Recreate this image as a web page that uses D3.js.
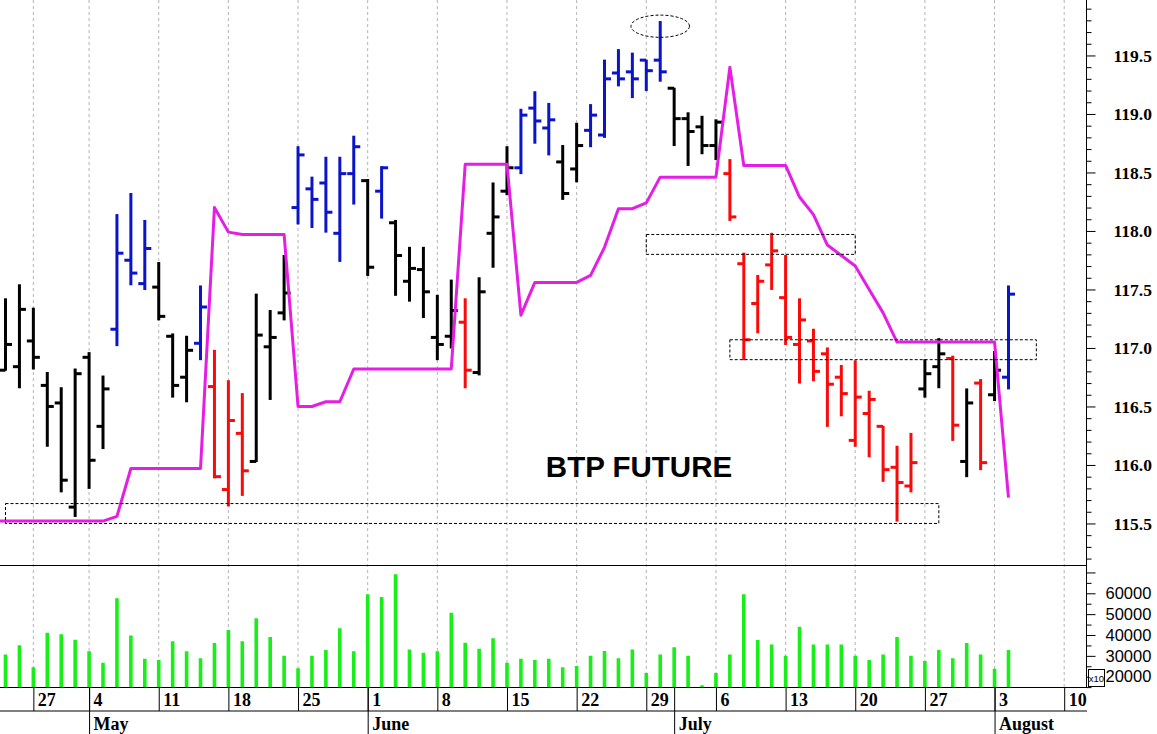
<!DOCTYPE html>
<html><head><meta charset="utf-8">
<script src="https://cdn.jsdelivr.net/npm/d3@7/dist/d3.min.js"></script>
<style>body{margin:0;background:#fff}svg{display:block}</style>
</head><body>
<svg id="c" width="1157" height="734"></svg>
<script>
// ---------- DATA ----------
const dates = [
 "2020-04-23","2020-04-24","2020-04-27","2020-04-28","2020-04-29","2020-04-30",
 "2020-05-04","2020-05-05","2020-05-06","2020-05-07","2020-05-08",
 "2020-05-11","2020-05-12","2020-05-13","2020-05-14","2020-05-15",
 "2020-05-18","2020-05-19","2020-05-20","2020-05-21","2020-05-22",
 "2020-05-25","2020-05-26","2020-05-27","2020-05-28","2020-05-29",
 "2020-06-01","2020-06-02","2020-06-03","2020-06-04","2020-06-05",
 "2020-06-08","2020-06-09","2020-06-10","2020-06-11","2020-06-12",
 "2020-06-15","2020-06-16","2020-06-17","2020-06-18","2020-06-19",
 "2020-06-22","2020-06-23","2020-06-24","2020-06-25","2020-06-26",
 "2020-06-29","2020-06-30","2020-07-01","2020-07-02","2020-07-03",
 "2020-07-06","2020-07-07","2020-07-08","2020-07-09","2020-07-10",
 "2020-07-13","2020-07-14","2020-07-15","2020-07-16","2020-07-17",
 "2020-07-20","2020-07-21","2020-07-22","2020-07-23","2020-07-24",
 "2020-07-27","2020-07-28","2020-07-29","2020-07-30","2020-07-31",
 "2020-08-03","2020-08-04",
 "2020-08-05","2020-08-06","2020-08-07","2020-08-10","2020-08-11"
];
const open = [116.81,116.84,117.06,116.68,116.53,115.64,116.92,116.33,117.16,117.75,117.55,
 117.52,117.10,116.75,117.04,116.67,115.79,116.27,116.03,117.01,117.30,
 118.20,118.36,118.41,117.98,118.49,118.43,118.34,118.07,117.57,117.67,
 117.09,117.10,117.22,116.79,117.98,118.34,118.54,119.05,118.88,118.59,
 118.53,118.86,118.82,119.35,119.36,119.46,119.46,119.22,118.96,118.89,
 118.73,118.49,117.72,117.38,117.71,117.43,117.03,117.06,116.95,116.75,
 116.21,116.44,116.33,115.98,115.82,116.65,116.84,116.91,116.03,116.70,
 116.60,116.75];
const high = [117.42,117.54,117.34,116.79,116.66,116.82,116.96,116.76,118.14,118.32,118.09,
 117.73,117.12,117.10,117.53,116.98,116.72,116.61,117.46,117.32,117.79,
 118.72,118.46,118.63,118.63,118.81,118.44,118.55,118.09,117.86,117.86,
 117.45,117.58,117.42,117.60,118.41,118.72,119.04,119.19,119.09,118.73,
 118.92,119.08,119.46,119.55,119.52,119.46,119.79,119.22,119.01,118.98,
 118.95,118.61,117.81,117.62,117.98,117.79,117.42,117.16,117.00,116.85,
 116.89,116.63,116.33,116.16,116.27,116.90,117.08,116.93,116.65,116.73,
 116.97,117.53];
const low = [116.81,116.66,116.82,116.16,115.77,115.56,115.80,116.14,117.02,117.54,117.50,
 117.24,116.58,116.54,116.90,115.89,115.65,115.74,116.03,116.56,117.24,
 118.06,118.03,117.99,117.74,118.23,117.62,118.11,117.45,117.40,117.26,
 116.90,117.00,116.66,116.77,117.69,118.31,118.49,118.75,118.65,118.27,
 118.42,118.72,118.80,119.24,119.14,119.20,119.28,118.73,118.56,118.66,
 118.61,118.09,116.90,117.13,117.50,117.03,116.70,116.72,116.33,116.42,
 116.16,116.07,115.86,115.52,115.77,116.58,116.66,116.21,115.90,115.96,
 116.55,116.65];
const close = [117.03,117.33,116.92,116.50,115.87,116.78,116.04,116.65,117.81,117.64,117.85,
 117.27,116.68,116.98,117.35,115.90,116.38,115.95,117.11,117.09,117.47,
 118.65,118.27,118.16,118.49,118.72,117.69,118.54,117.79,117.68,117.48,
 117.03,117.32,116.81,117.48,118.12,118.54,118.99,118.94,118.95,118.32,
 118.73,118.99,119.30,119.30,119.30,119.37,119.36,118.96,118.85,118.73,
 118.93,118.12,117.07,117.57,117.83,117.09,117.24,116.80,116.69,116.61,
 116.58,116.56,115.96,115.85,116.02,116.78,116.95,116.34,116.53,116.02,
 116.81,117.46];
// bar signal: k = neutral, b = up signal, r = down signal
const signal = ["k","k","k","k","k","k","k","k","b","b","b",
 "k","k","k","b","r","r","r","k","k","k",
 "b","b","b","b","b","k","b","k","k","k",
 "k","k","r","k","k","k","b","b","b","k",
 "k","b","b","b","b","b","b","k","k","k",
 "k","r","r","r","r","r","r","r","r","r",
 "r","r","r","r","r","k","k","r","k","r",
 "k","b"];
const volume = [30700,35100,24500,41100,40300,37700,32200,26700,57600,39700,28600,
 28000,37000,32200,28800,36200,42400,37000,48000,39000,30100,
 24000,30100,32800,43200,32200,59500,58200,69100,33000,31500,
 32200,50700,36300,33400,38400,26700,28600,28000,28600,24500,
 25100,30100,32300,28800,33000,21800,30700,34100,30100,15900,
 21800,30700,59500,37600,35500,30100,44000,35500,35500,35500,
 30100,28000,30700,39000,30100,27500,32800,28800,36200,30700,
 23800,32800];
const stopPrevDate = "2020-04-22";
const stopPrev = 115.52;
const stopLine = [115.52,115.52,115.52,115.52,115.52,115.52,115.52,115.52,
 115.56,115.97,115.97,115.97,115.97,115.97,115.97,
 118.20,117.99,117.97,117.97,117.97,117.97,
 116.50,116.50,116.54,116.54,
 116.82,116.82,116.82,116.82,116.82,116.82,116.82,116.82,
 118.57,118.57,118.57,118.57,
 117.28,117.56,117.56,117.56,117.56,117.62,117.86,118.19,118.19,118.24,
 118.46,118.46,118.46,118.46,118.46,
 119.40,118.56,118.56,118.56,118.56,118.29,118.14,117.88,117.79,117.70,117.50,117.30,
 117.05,117.05,117.05,117.05,117.05,117.05,117.05,117.05,
 115.72];
const boxes = [
 {from:"2020-04-23", to:"2020-07-28", lo:115.50, hi:115.67},
 {from:"2020-06-29", to:"2020-07-20", lo:117.80, hi:117.97},
 {from:"2020-07-07", to:"2020-08-06", lo:116.90, hi:117.07}
];
const ellipse = {date:"2020-06-30", price:119.75, halfDays:2.1, halfPrice:0.095};
const title = "BTP FUTURE";
const priceMajor = [115.5,116.0,116.5,117.0,117.5,118.0,118.5,119.0,119.5];
const volTicks = [15000,20000,25000,30000,35000,40000,45000,50000,55000,60000,65000,70000];
const volLabels = [20000,30000,40000,50000,60000];
const volUnit = "x10";
const weekDates = ["2020-04-27","2020-05-04","2020-05-11","2020-05-18","2020-05-25","2020-06-01",
 "2020-06-08","2020-06-15","2020-06-22","2020-06-29","2020-07-06","2020-07-13","2020-07-20",
 "2020-07-27","2020-08-03","2020-08-10"];
const weekLabels = ["27","4","11","18","25","1","8","15","22","29","6","13","20","27","3","10"];
const monthDates = ["2020-05-04","2020-06-01","2020-07-01","2020-08-03"];
const monthLabels = ["May","June","July","August"];

// ---------- LAYOUT ----------
const R = 1086, pTop = 0, pBot = 565, vTop = 565, vBot = 687.5, row1 = 711, row2 = 734;
const colors = {k:"#000000", b:"#0a14c8", r:"#fa0a0a"};
const idx = new Map(dates.map((d,i)=>[d,i]));
idx.set(stopPrevDate, -1);
const x = d3.scaleLinear().domain([0,76]).range([5.5,1064.2]);
const xd = d => x(idx.get(d));
const y = d3.scaleLinear().domain([115.145,119.974]).range([pBot,pTop]);
const yv = d3.scaleLinear().domain([14820,73570]).range([vBot,vTop]);

const svg = d3.select("#c");
const defs = svg.append("defs");
defs.append("clipPath").attr("id","clipP").append("rect").attr("x",0).attr("y",pTop).attr("width",R).attr("height",pBot-pTop);
defs.append("clipPath").attr("id","clipV").append("rect").attr("x",0).attr("y",vTop).attr("width",R).attr("height",vBot-vTop);

// grid
svg.append("g").selectAll("line").data(weekDates).join("line")
  .attr("x1",d=>xd(d)).attr("x2",d=>xd(d)).attr("y1",0).attr("y2",vBot)
  .attr("stroke","#b4b4b4").attr("stroke-width",1).attr("stroke-dasharray","3,3");

// volume
svg.append("g").attr("clip-path","url(#clipV)").selectAll("line").data(volume).join("line")
  .attr("x1",(d,i)=>x(i)).attr("x2",(d,i)=>x(i))
  .attr("y1",d=>yv(d)).attr("y2",vBot)
  .attr("stroke","#18ee18").attr("stroke-width",3.6);

// OHLC bars
const gb = svg.append("g").attr("clip-path","url(#clipP)");
const bars = gb.selectAll("g").data(open.map((o,i)=>({i,o,h:high[i],l:low[i],c:close[i],s:signal[i]}))).join("g")
  .attr("stroke",d=>colors[d.s]).attr("stroke-width",3);
bars.append("line").attr("x1",d=>x(d.i)).attr("x2",d=>x(d.i)).attr("y1",d=>y(d.h)-0.5).attr("y2",d=>y(d.l)+0.5);
bars.append("line").attr("x1",d=>x(d.i)-6.5).attr("x2",d=>x(d.i)).attr("y1",d=>y(d.o)).attr("y2",d=>y(d.o));
bars.append("line").attr("x1",d=>x(d.i)).attr("x2",d=>x(d.i)+6.5).attr("y1",d=>y(d.c)).attr("y2",d=>y(d.c));

// stop line
const pts = [{i:idx.get(stopPrevDate), v:stopPrev}].concat(stopLine.map((v,i)=>({i,v})));
gb.append("path").datum(pts)
  .attr("d", d3.line().x(d=>x(d.i)).y(d=>y(d.v)))
  .attr("fill","none").attr("stroke","#e41ee4").attr("stroke-width",3).attr("stroke-linejoin","round");

// annotations
gb.append("g").selectAll("rect").data(boxes).join("rect")
  .attr("x",d=>xd(d.from)).attr("width",d=>xd(d.to)-xd(d.from))
  .attr("y",d=>y(d.hi)).attr("height",d=>y(d.lo)-y(d.hi))
  .attr("fill","none").attr("stroke","#000").attr("stroke-width",1).attr("stroke-dasharray","3,2");
gb.append("ellipse")
  .attr("cx",xd(ellipse.date)).attr("cy",y(ellipse.price))
  .attr("rx",x(ellipse.halfDays)-x(0)).attr("ry",y(119.5-ellipse.halfPrice)-y(119.5))
  .attr("fill","none").attr("stroke","#000").attr("stroke-width",1).attr("stroke-dasharray","3,2");

svg.append("text").attr("x",639).attr("y",477).attr("text-anchor","middle")
  .attr("font-family","'Liberation Sans', Arial, sans-serif").attr("font-weight","bold")
  .attr("font-size",29.5).text(title);

// frame lines
const frame = svg.append("g").attr("stroke","#000").attr("stroke-width",1);
frame.append("line").attr("x1",0).attr("x2",R).attr("y1",pBot+0.5).attr("y2",pBot+0.5);
frame.append("line").attr("x1",R+0.5).attr("x2",R+0.5).attr("y1",0).attr("y2",vBot);
frame.append("line").attr("x1",0).attr("x2",R+1).attr("y1",vBot).attr("y2",vBot);
frame.append("line").attr("x1",0).attr("x2",R+1).attr("y1",row1).attr("y2",row1);

// price axis
const minorP = d3.range(1152,1200).map(v=>v/10).filter(v=>y(v)>=0 && Math.abs(v*2-Math.round(v*2))>1e-6);
const axP = svg.append("g").attr("transform",`translate(${R+0.5},0)`);
axP.call(d3.axisRight(y).tickValues(minorP).tickSize(5).tickFormat(""));
axP.append("g").call(d3.axisRight(y).tickValues(priceMajor).tickSize(9).tickPadding(18).tickFormat(d3.format(".1f")));
axP.selectAll(".domain").remove();
axP.selectAll("text").attr("font-family","'Liberation Serif', 'Times New Roman', serif")
  .attr("font-weight","bold").attr("font-size",17.5).attr("fill","#000");

// volume axis
const axV = svg.append("g").attr("transform",`translate(${R+0.5},0)`);
axV.call(d3.axisRight(yv).tickValues(volTicks).tickSize(5).tickFormat(""));
axV.selectAll(".tick line").filter(d=>d%10000===0).attr("x2",9);
axV.append("g").call(d3.axisRight(yv).tickValues(volLabels).tickSize(0).tickPadding(19).tickFormat(d3.format("d")));
axV.selectAll(".domain").remove();
axV.selectAll("text").attr("font-family","'Liberation Sans', Arial, sans-serif")
  .attr("font-size",16.5).attr("fill","#000");
svg.append("rect").attr("x",1088.5).attr("y",669.5).attr("width",16).attr("height",17)
  .attr("fill","#fff").attr("stroke","#000").attr("stroke-width",1);
svg.append("text").attr("x",1096.5).attr("y",681.5).attr("text-anchor","middle")
  .attr("font-family","'Liberation Sans', Arial, sans-serif")
  .attr("font-size",9.5).text(volUnit);

// date axis
const axW = svg.append("g").attr("transform",`translate(0,${vBot})`);
axW.call(d3.axisBottom(x).tickValues(weekDates.map(d=>idx.get(d))).tickSize(row1-vBot).tickFormat((d,i)=>weekLabels[i]));
axW.selectAll(".domain").remove();
axW.selectAll(".tick line").attr("stroke","#000");
axW.selectAll("text").attr("text-anchor","start").attr("x",4).attr("y",6).attr("dy","0.71em")
  .attr("font-family","'Liberation Serif', 'Times New Roman', serif").attr("font-weight","bold")
  .attr("font-size",18).attr("fill","#000");
const axM = svg.append("g").attr("transform",`translate(0,${vBot})`);
axM.call(d3.axisBottom(x).tickValues(monthDates.map(d=>idx.get(d))).tickSize(row2-vBot).tickFormat((d,i)=>monthLabels[i]));
axM.selectAll(".domain").remove();
axM.selectAll(".tick line").attr("stroke","#000");
axM.selectAll("text").attr("text-anchor","start").attr("x",4).attr("y",row1-vBot+6).attr("dy","0.71em")
  .attr("font-family","'Liberation Serif', 'Times New Roman', serif").attr("font-weight","bold")
  .attr("font-size",18).attr("fill","#000");
</script>
</body></html>
